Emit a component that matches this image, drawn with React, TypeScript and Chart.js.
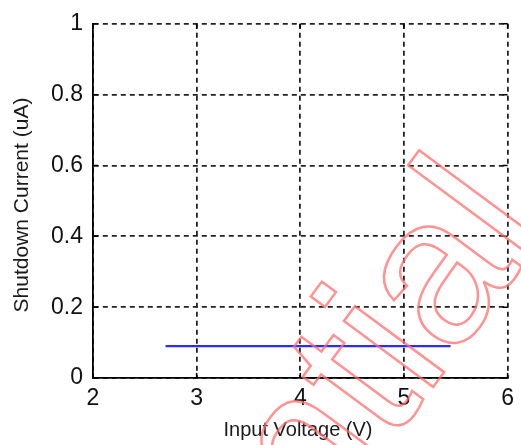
import React, { useEffect, useRef } from "react";
import { Chart, registerables } from "chart.js";

Chart.register(...registerables);

const inputVoltage = [2.7, 3, 3.5, 4, 4.5, 5, 5.45];
const shutdownCurrent = [0.09, 0.09, 0.09, 0.09, 0.09, 0.09, 0.09];
const xTicks = [2, 3, 4, 5, 6];
const yTickLabels = ["0", "0.2", "0.4", "0.6", "0.8", "1"];
const xTitle = "Input Voltage (V)";
const yTitle = "Shutdown Current (uA)";
const watermark = "Confidential";

const FONT = "Arial, 'Liberation Sans', sans-serif";

const decorPlugin = {
  id: "decor",
  afterDraw(chart: any) {
    const { ctx, chartArea } = chart;
    const xs = chart.scales.x;
    const ys = chart.scales.y;
    ctx.save();
    // inward tick marks
    ctx.strokeStyle = "#000";
    ctx.lineWidth = 1.5;
    ctx.beginPath();
    xTicks.forEach((v) => {
      const px = xs.getPixelForValue(v);
      ctx.moveTo(px, chartArea.bottom);
      ctx.lineTo(px, chartArea.bottom - 5);
      ctx.moveTo(px, chartArea.top);
      ctx.lineTo(px, chartArea.top + 5);
    });
    yTickLabels.forEach((_, i) => {
      const py = ys.getPixelForValue(i * 0.2);
      ctx.moveTo(chartArea.left, py);
      ctx.lineTo(chartArea.left + 5, py);
      ctx.moveTo(chartArea.right, py);
      ctx.lineTo(chartArea.right - 5, py);
    });
    ctx.stroke();

    // axis titles
    ctx.fillStyle = "#1a1a1a";
    ctx.textAlign = "center";
    ctx.textBaseline = "middle";
    ctx.font = `20px ${FONT}`;
    ctx.fillText(xTitle, 298, 430);
    ctx.save();
    ctx.translate(22, 205);
    ctx.rotate(-Math.PI / 2);
    ctx.font = `21px ${FONT}`;
    ctx.fillText(yTitle, 0, 0);
    ctx.restore();

    // watermark
    ctx.save();
    ctx.translate(-110, 1121);
    ctx.rotate((-53.5 * Math.PI) / 180);
    ctx.font = `210px ${FONT}`;
    ctx.textAlign = "left";
    ctx.textBaseline = "alphabetic";
    ctx.strokeStyle = "rgba(255,110,110,0.75)";
    ctx.lineWidth = 2.5;
    ctx.lineJoin = "miter";
    ctx.strokeText(watermark, 0, 0);
    ctx.restore();
    ctx.restore();
  },
};

export default function App() {
  const ref = useRef<HTMLCanvasElement>(null);
  useEffect(() => {
    if (!ref.current) return;
    const chart = new Chart(ref.current, {
      type: "line",
      data: {
        datasets: [
          {
            data: inputVoltage.map((x, i) => ({ x, y: shutdownCurrent[i] })),
            borderColor: "#2b2bff",
            borderWidth: 2.2,
            pointRadius: 0,
            fill: false,
            tension: 0,
          },
        ],
      },
      options: {
        animation: false,
        responsive: false,
        devicePixelRatio: 1,
        layout: { padding: { top: 18, right: 13, left: 0, bottom: 0 } },
        plugins: { legend: { display: false }, tooltip: { enabled: false } },
        scales: {
          x: {
            type: "linear",
            min: 2,
            max: 6,
            afterFit: (s: any) => {
              s.height = 67;
            },
            afterBuildTicks: (s: any) => {
              s.ticks = xTicks.map((v) => ({ value: v }));
            },
            ticks: {
              font: { family: FONT, size: 23 },
              color: "#111",
              padding: 7,
              maxRotation: 0,
              callback: (v: any) => String(v),
            },
            grid: { color: "#222", lineWidth: 1.8, drawTicks: false },
            border: { display: true, color: "#000", width: 1.8, dash: [5, 4] },
          },
          y: {
            type: "linear",
            min: 0,
            max: 1,
            afterFit: (s: any) => {
              s.width = 93;
            },
            afterBuildTicks: (s: any) => {
              s.ticks = yTickLabels.map((_, i) => ({ value: i * 0.2 }));
            },
            ticks: {
              font: { family: FONT, size: 23 },
              color: "#111",
              padding: 10,
              callback: (v: any) => yTickLabels[Math.round(Number(v) * 5)],
            },
            grid: { color: "#222", lineWidth: 1.8, drawTicks: false },
            border: { display: true, color: "#000", width: 1.8, dash: [5, 4] },
          },
        },
      },
      plugins: [decorPlugin],
    });
    return () => chart.destroy();
  }, []);
  return (
    <div style={{ position: "absolute", left: 0, top: 0, width: 521, height: 445, background: "#fff" }}>
      <canvas ref={ref} width={521} height={445} />
    </div>
  );
}
